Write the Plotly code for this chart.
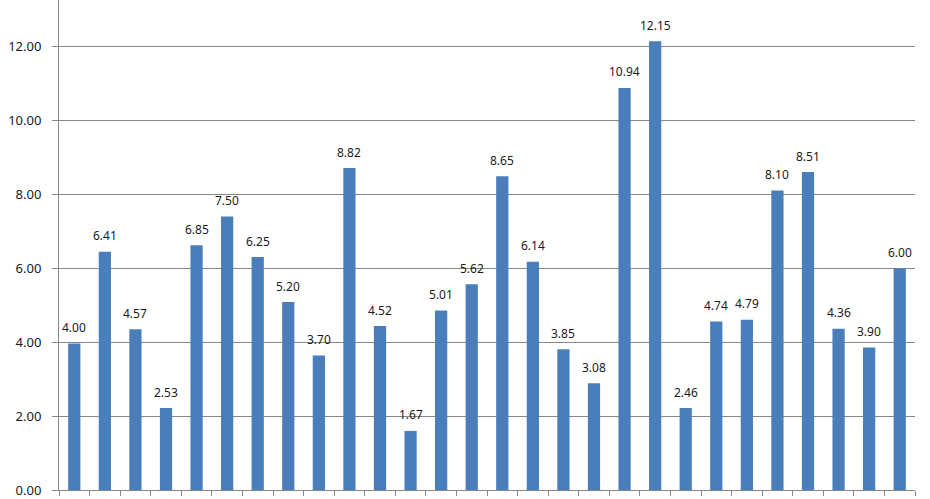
import plotly.graph_objects as go

categories = [f"C{i}" for i in range(1, 29)]
bar_values = [3.97, 6.45, 4.35, 2.22, 6.63, 7.41, 6.31, 5.09, 3.64, 8.72,
              4.44, 1.60, 4.86, 5.57, 8.50, 6.18, 3.81, 2.89, 10.89, 12.15,
              2.22, 4.56, 4.61, 8.11, 8.61, 4.37, 3.86, 6.00]
label_values = [4.00, 6.41, 4.57, 2.53, 6.85, 7.50, 6.25, 5.20, 3.70, 8.82,
                4.52, 1.67, 5.01, 5.62, 8.65, 6.14, 3.85, 3.08, 10.94, 12.15,
                2.46, 4.74, 4.79, 8.10, 8.51, 4.36, 3.90, 6.00]
y_ticks = [0, 2, 4, 6, 8, 10, 12]

FONT = "Noto Sans"
fig = go.Figure()
fig.add_trace(go.Bar(
    x=categories, y=bar_values, width=0.4,
    marker=dict(color="#4a7ebb", line=dict(width=0)),
    hoverinfo="skip", showlegend=False,
))

for c, v, lab in zip(categories, bar_values, label_values):
    fig.add_annotation(
        x=c, y=v, text=f"{lab:.2f}", showarrow=False,
        yanchor="middle", xanchor="center", yshift=16,
        font=dict(family=FONT, size=12, color="#1a1a1a"),
    )

fig.update_layout(
    width=930, height=499,
    margin=dict(l=59, r=15, t=0, b=9),
    paper_bgcolor="white", plot_bgcolor="white",
    bargap=0.6,
    font=dict(family=FONT, size=13, color="#1a1a1a"),
)
fig.update_xaxes(
    type="category", categoryorder="array", categoryarray=categories,
    range=[-0.5, 27.5],
    showticklabels=False, tickson="boundaries",
    ticks="outside", ticklen=5, tickcolor="#868686", tickwidth=1,
    showline=True, linecolor="#868686", linewidth=1,
    showgrid=False, zeroline=False,
)
fig.update_yaxes(
    range=[0, 13.27], tickvals=y_ticks, tickformat=".2f",
    ticks="outside", ticklen=6, tickcolor="#868686", tickwidth=1,
    ticklabelstandoff=8,
    showline=True, linecolor="#868686", linewidth=1,
    showgrid=True, gridcolor="#868686", gridwidth=1,
    zeroline=False,
    tickfont=dict(family=FONT, size=13, color="#1a1a1a"),
)

fig.write_html("out.html")
